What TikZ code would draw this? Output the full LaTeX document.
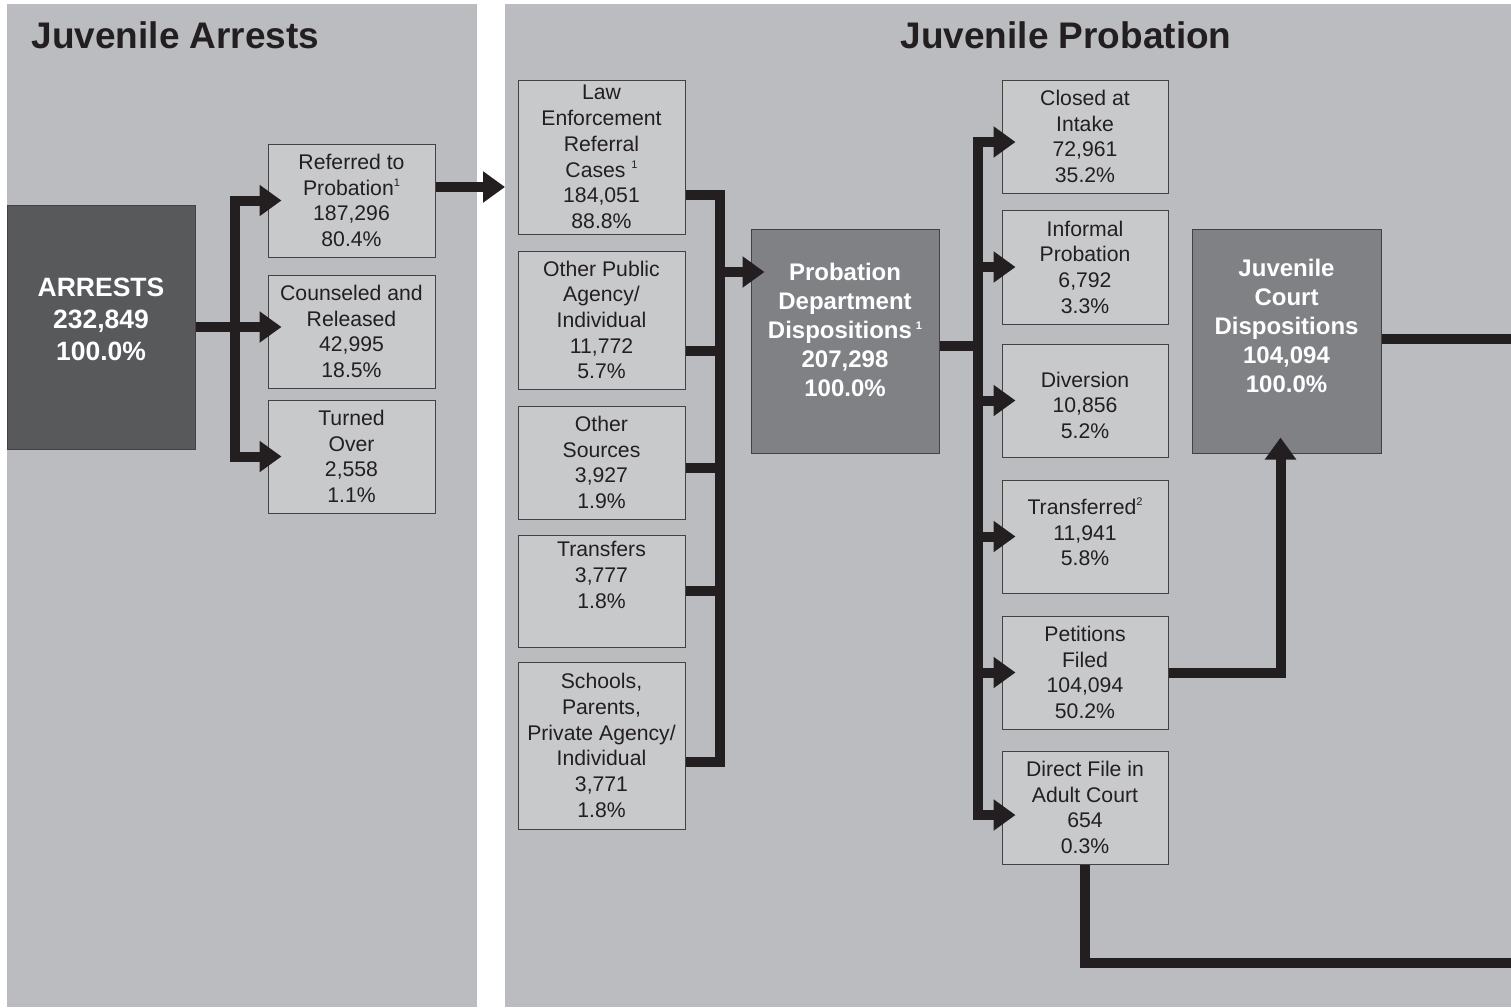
\documentclass[tikz,border=0pt]{standalone}
\usepackage{fontspec}
\setmainfont{Liberation Sans}
\usetikzlibrary{arrows.meta}
\definecolor{panelgray}{HTML}{BBBCC0}
\definecolor{boxgray}{HTML}{C8C9CB}
\definecolor{darkbox}{HTML}{58595B}
\definecolor{midbox}{HTML}{808184}
\definecolor{ink}{HTML}{231F20}
\newcommand{\supnote}[1]{\raisebox{0.75ex}{\fontsize{11}{11}\selectfont#1}}

\begin{document}
\begin{tikzpicture}[x=1pt,y=-1pt,
  flow/.style={line width=10pt,draw=ink},
  arrow/.style={flow,-{Triangle[length=22pt,width=30pt]},shorten >=-14pt},
  stage/.style={draw=ink!85,line width=1pt,fill=boxgray,text=ink,align=center,inner sep=0pt,
    minimum width=167pt,minimum height=113pt,font=\fontsize{21.2}{25.7}\selectfont},
  total/.style={stage,fill=midbox,text=white,minimum width=188pt,minimum height=224pt,
    font=\bfseries\fontsize{24}{29}\selectfont},
  heading/.style={text=ink,font=\bfseries\fontsize{37}{42}\selectfont}]
\useasboundingbox (0,0) rectangle (1511,1007);
% panels
\fill[panelgray] (7,4) rectangle (477,1007);
\fill[panelgray] (505,4) rectangle (1511,1007);
\node[heading,anchor=west] (hArrests) at (28,35) {Juvenile Arrests};
\node[heading] (hProbation) at (1066,35) {Juvenile Probation};

% arrests
\node[total,fill=darkbox,minimum height=244pt,font=\bfseries\fontsize{26.5}{32}\selectfont] (arrests) at (101,327)
  {ARRESTS\\232,849\\100.0\%\\[-16pt]\mbox{}};
\node[stage] (referred) at (351.5,200.5) {Referred to\\Probation\supnote{1}\\187,296\\80.4\%};
\node[stage] (counseled) at (351.5,331.5) {Counseled and\\Released\\42,995\\18.5\%};
\node[stage] (turned) at (351.5,456.5) {Turned\\Over\\2,558\\1.1\%};

% referral sources
\node[stage,minimum height=154pt] (law) at (601.5,157) {Law\\Enforcement\\Referral\\Cases \supnote{1}\\184,051\\88.8\%};
\node[stage,minimum height=138pt] (public) at (601.5,320) {Other Public\\Agency/\\Individual\\11,772\\5.7\%};
\node[stage] (sources) at (601.5,462.5) {Other\\Sources\\3,927\\1.9\%};
\node[stage,minimum height=112pt] (transfers) at (601.5,591) {Transfers\\3,777\\1.8\%\\[6.3pt]\mbox{}};
\node[stage,minimum height=167pt] (schools) at (601.5,745.5) {Schools,\\Parents,\\Private Agency/\\Individual\\3,771\\1.8\%};

\node[total] (probation) at (845,341) {Probation\\Department\\Dispositions\,\supnote{1}\\207,298\\100.0\%\\[-7pt]\mbox{}};

% probation outcomes
\node[stage,minimum width=166pt] (closed) at (1085,136.5) {Closed at\\Intake\\72,961\\35.2\%};
\node[stage,minimum width=166pt,minimum height=114pt] (informal) at (1085,267) {Informal\\Probation\\6,792\\3.3\%};
\node[stage,minimum width=166pt] (diversion) at (1085,400.5) {\rule{0pt}{25pt}Diversion\\10,856\\5.2\%};
\node[stage,minimum width=166pt] (transferred) at (1085,536.5) {Transferred\supnote{2}\\11,941\\5.8\%\\[-16.7pt]\mbox{}};
\node[stage,minimum width=166pt] (petitions) at (1085,672.5) {Petitions\\Filed\\104,094\\50.2\%};
\node[stage,minimum width=166pt] (directfile) at (1085,807.5) {Direct File in\\Adult Court\\654\\0.3\%};

\node[total,minimum width=189pt] (court) at (1286.5,341) {Juvenile\\Court\\Dispositions\\104,094\\100.0\%\\[2pt]\mbox{}};

% connectors
\coordinate (split) at (235,327);
\draw[flow] (arrests.east) -- (split);
\draw[arrow] (split) |- (referred.west);
\draw[arrow] (split) -- (split -| counseled.west);
\draw[arrow] (split) |- (turned.west);
\coordinate (toLaw) at (505,187);
\draw[arrow,shorten >=0pt] (referred.east |- toLaw) -- (toLaw);

\coordinate (srcT) at (720,195);
\coordinate (srcB) at (720,762);
\draw[flow] (law.east |- srcT) -- (srcT) -- (srcB) -- (schools.east |- srcB);
\coordinate (srcP) at (720,351);
\coordinate (srcO) at (720,468);
\coordinate (srcX) at (720,591);
\draw[flow] (public.east |- srcP) -- (srcP);
\draw[flow] (sources.east |- srcO) -- (srcO);
\draw[flow] (transfers.east |- srcX) -- (srcX);
\coordinate (intoPD) at (720,272);
\draw[arrow] (intoPD) -- (intoPD -| probation.west);

\coordinate (dispT) at (978,142);
\coordinate (dispB) at (978,815);
\coordinate (dispM) at (978,346);
\draw[flow] (probation.east |- dispM) -- (dispM);
\draw[arrow] (dispB) -- (dispT) -- (dispT -| closed.west);
\draw[arrow] (dispT) -- (dispB) -- (dispB -| directfile.west);
\draw[arrow] (dispT |- informal.west) -- (informal.west);
\draw[arrow] (dispT |- diversion.west) -- (diversion.west);
\draw[arrow] (dispT |- transferred.west) -- (transferred.west);
\draw[arrow] (dispT |- petitions.west) -- (petitions.west);

\draw[arrow,shorten >=-16pt] (petitions.east) -| ([xshift=-6pt]court.south);
\coordinate (outCourt) at (1520,339);
\draw[flow] (court.east |- outCourt) -- (outCourt);
\coordinate (outAdult) at (1520,963);
\draw[flow] (directfile.south) |- (outAdult);
\end{tikzpicture}
\end{document}
